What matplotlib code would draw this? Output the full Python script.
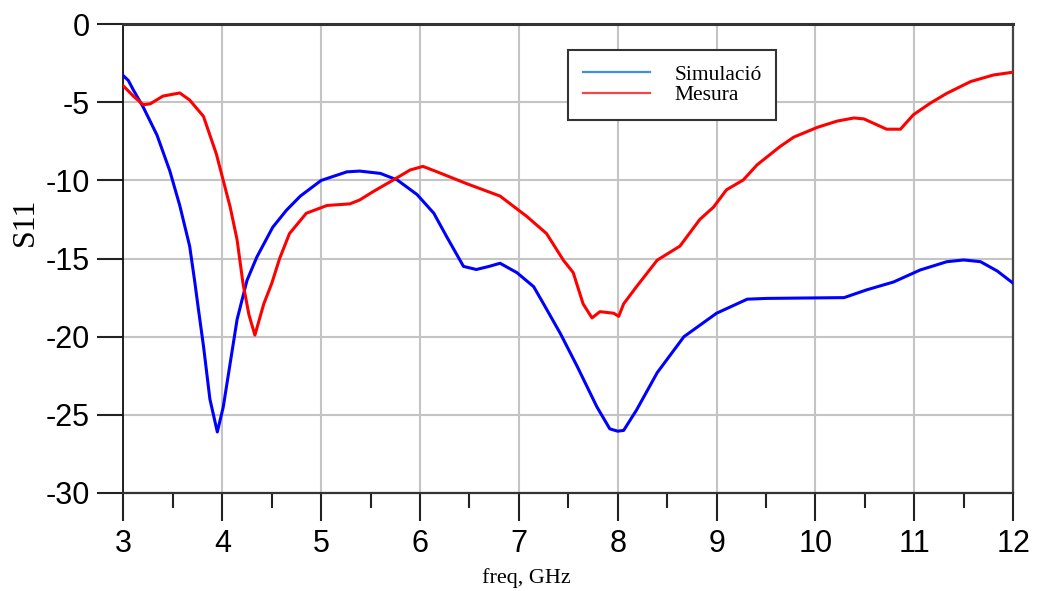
import numpy as np
import matplotlib
matplotlib.use("Agg")
import matplotlib.pyplot as plt
from matplotlib.lines import Line2D
from matplotlib.ticker import MultipleLocator

plt.rcParams["axes.unicode_minus"] = False

# S11 simulated
freq_sim = [3.00, 3.05, 3.10, 3.20, 3.34, 3.47, 3.57, 3.67, 3.72, 3.76, 3.81, 3.875, 3.95,
            4.01, 4.08, 4.15, 4.25, 4.35, 4.51, 4.65, 4.79, 5.00, 5.26, 5.39, 5.60,
            5.77, 5.97, 6.14, 6.27, 6.44, 6.57, 6.70, 6.81, 6.98, 7.15, 7.25, 7.42,
            7.59, 7.79, 7.92, 8.00, 8.06, 8.19, 8.40, 8.67, 9.00, 9.31, 9.51, 10.29,
            10.52, 10.79, 11.06, 11.33, 11.50, 11.67, 11.84, 12.00]
s11_sim = [-3.3, -3.6, -4.2, -5.3, -7.1, -9.4, -11.6, -14.2, -16.4, -18.3, -20.6, -24.0, -26.1,
           -24.5, -21.7, -18.9, -16.4, -14.9, -13.0, -11.9, -11.0, -10.0, -9.45, -9.4, -9.55,
           -9.97, -10.9, -12.1, -13.6, -15.5, -15.7, -15.5, -15.3, -15.9, -16.8, -17.9, -19.8,
           -21.9, -24.5, -25.9, -26.05, -26.0, -24.7, -22.3, -20.0, -18.5, -17.6, -17.55, -17.5,
           -17.0, -16.5, -15.73, -15.2, -15.09, -15.2, -15.8, -16.58]

# S11 measured
freq_mes = [3.00, 3.10, 3.20, 3.27, 3.40, 3.57, 3.67, 3.81, 3.94, 4.01, 4.08, 4.15,
            4.21, 4.27, 4.33, 4.42, 4.50, 4.58, 4.68, 4.85, 5.06, 5.29, 5.39, 5.53,
            5.73, 5.90, 6.03, 6.17, 6.47, 6.81, 7.08, 7.28, 7.45, 7.55, 7.65, 7.74,
            7.82, 7.96, 8.01, 8.06, 8.19, 8.40, 8.63, 8.83, 8.97, 9.10, 9.27, 9.41,
            9.64, 9.78, 10.02, 10.22, 10.39, 10.49, 10.72, 10.86, 10.99, 11.16, 11.33,
            11.57, 11.80, 12.00]
s11_mes = [-3.95, -4.6, -5.15, -5.1, -4.6, -4.4, -4.85, -5.9, -8.3, -10.0, -11.7, -13.8,
           -16.6, -18.6, -19.9, -17.9, -16.6, -15.0, -13.4, -12.1, -11.6, -11.5, -11.25, -10.7,
           -9.97, -9.33, -9.1, -9.44, -10.2, -11.0, -12.3, -13.4, -15.1, -15.9, -17.9, -18.8,
           -18.4, -18.5, -18.7, -17.9, -16.8, -15.1, -14.2, -12.5, -11.7, -10.6, -9.97, -9.0,
           -7.84, -7.23, -6.6, -6.2, -6.0, -6.06, -6.72, -6.72, -5.8, -5.06, -4.42,
           -3.67, -3.25, -3.07]

labels = ["Simulació", "Mesura"]

fig = plt.figure(figsize=(10.37, 5.91), dpi=100)
ax = fig.add_axes([0.119, 0.166, 0.858, 0.793])

ax.plot(freq_sim, s11_sim, color="#0000ff", lw=2.2, zorder=3)
ax.plot(freq_mes, s11_mes, color="#ff0000", lw=2.2, zorder=3)

ax.set_xlim(3, 12)
ax.set_ylim(-30, 0)
ax.xaxis.set_major_locator(MultipleLocator(1))
ax.xaxis.set_minor_locator(MultipleLocator(0.5))
ax.yaxis.set_major_locator(MultipleLocator(5))

ax.grid(True, which="major", color="#c4c4c4", lw=1.5, zorder=0)
ax.set_axisbelow(True)

for side, c, w in [("left", "#111111", 1.3), ("top", "#333333", 2.2),
                   ("right", "#444444", 1.6), ("bottom", "#333333", 1.6)]:
    ax.spines[side].set_color(c)
    ax.spines[side].set_linewidth(w)

ax.tick_params(axis="x", which="major", length=20, width=1.5, color="#222222",
               pad=6, labelsize=22)
ax.tick_params(axis="x", which="minor", length=11, width=1.5, color="#222222")
ax.tick_params(axis="y", which="major", length=19, width=1.5, color="#222222",
               pad=5, labelsize=22)
for lab in ax.get_xticklabels() + ax.get_yticklabels():
    lab.set_fontfamily("Liberation Sans")

ax.set_xlabel("freq, GHz", family="Liberation Serif", fontsize=16, va="center")
ax.xaxis.set_label_coords(0.453, -0.182)
ax.set_ylabel("S11", family="Liberation Serif", fontsize=23, va="center")
ax.yaxis.set_label_coords(-0.11, 0.578)

handles = [Line2D([], [], color="#3f8fdc", lw=1.6),
           Line2D([], [], color="#f04848", lw=1.6)]
leg = ax.legend(handles, labels, loc="upper left", bbox_to_anchor=(0.5, 0.945),
                frameon=True, fancybox=False, framealpha=1, edgecolor="#333333",
                prop={"family": "Liberation Serif", "size": 15.5},
                handlelength=3.1, handletextpad=1.15, borderpad=0.68,
                labelspacing=0.02, borderaxespad=0)
leg.get_frame().set_linewidth(1.5)

fig.savefig("out.png", dpi=100, facecolor="white")
